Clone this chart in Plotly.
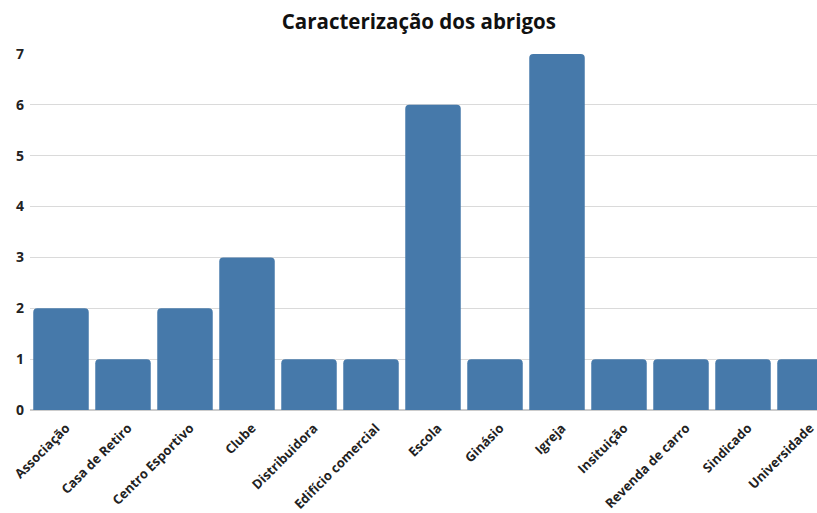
import plotly.graph_objects as go

categories = ["Associação", "Casa de Retiro", "Centro Esportivo", "Clube", "Distribuidora",
              "Edifício comercial", "Escola", "Ginásio", "Igreja", "Insituição",
              "Revenda de carro", "Sindicado", "Universidade"]
values = [2, 1, 2, 3, 1, 1, 6, 1, 7, 1, 1, 1, 1]
y_ticks = [0, 1, 2, 3, 4, 5, 6, 7]

fig = go.Figure(go.Bar(x=categories, y=values, marker=dict(color="#4679AA", line=dict(width=0))))

fig.update_layout(
    width=836, height=513,
    margin=dict(l=30, r=0, t=54, b=103),
    paper_bgcolor="white", plot_bgcolor="white",
    bargap=0.105,
    barcornerradius=4,
    font=dict(family="Open Sans", color="#222", size=12),
    title=dict(text="<b>Caracterização dos abrigos</b>", x=0.501, xanchor="center",
               y=0.957, yanchor="middle", font=dict(size=20.5, family="Open Sans", color="#111")),
    showlegend=False,
)
fig.update_xaxes(tickangle=-45, tickfont=dict(size=13, family="Open Sans", weight="bold"),
                 showgrid=False, showline=False, ticks="", automargin=False,
                 ticklabelstandoff=7, ticklabelshift=5)
fig.update_yaxes(range=[0, 7], tickvals=y_ticks, showgrid=True, gridcolor="#DADADA",
                 zeroline=True, zerolinecolor="#CCCCCC", ticks="", ticklen=0,
                 ticklabelstandoff=5,
                 tickfont=dict(size=14, family="Open Sans", weight="bold"),
                 automargin=False)

fig.write_html("out.html",
               config={"displayModeBar": False},
               post_script="document.body.style.margin='0';"
                           "document.documentElement.style.overflow='hidden';"
                           "document.body.style.overflow='hidden';")
